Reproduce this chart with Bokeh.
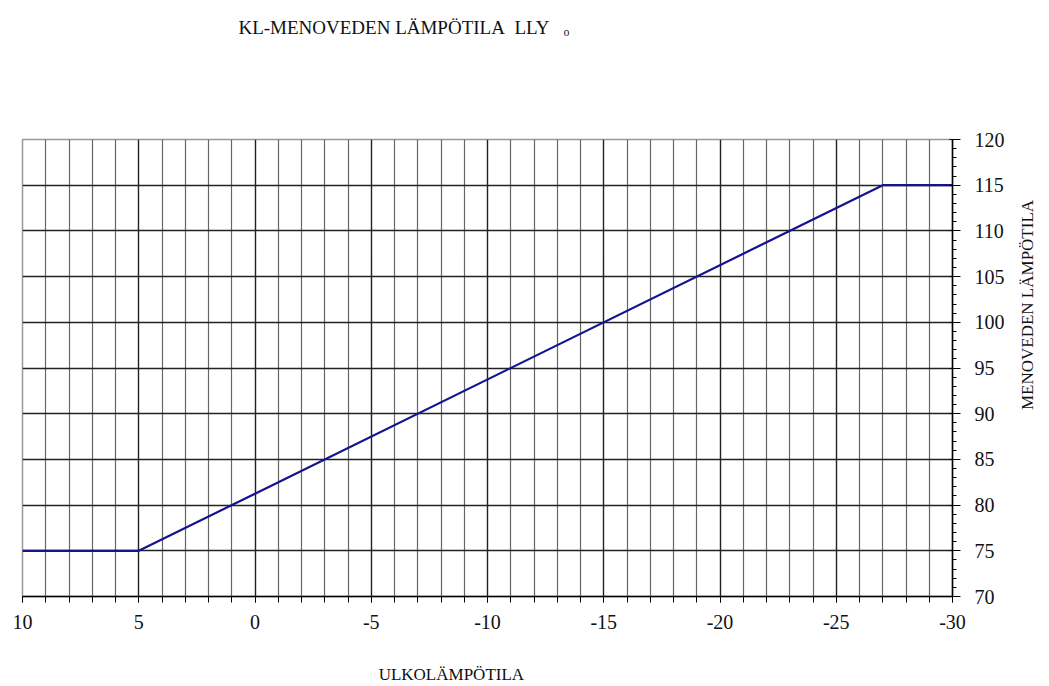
import math
from bokeh.plotting import figure
from bokeh.models import Range1d, LinearAxis, SingleIntervalTicker, FixedTicker
from bokeh.embed import file_html
from bokeh.resources import INLINE

# Data
outdoor_temp = [10, 5, -27, -30]
supply_temp = [75, 75, 115, 115]

x_tick_values = [10, 5, 0, -5, -10, -15, -20, -25, -30]
y_tick_values = [70, 75, 80, 85, 90, 95, 100, 105, 110, 115, 120]

NB = "\u00a0"
title_text = "KL-MENOVEDEN LÄMPÖTILA" + NB + NB + "LLY" + NB * 3 + "ₒ"
x_label = "ULKOLÄMPÖTILA"
y_label = "MENOVEDEN LÄMPÖTILA"

# layout anchors for the title / right-hand label (positions along the axes)
TITLE_AT = -6.4
YLABEL_START_AT = 90.4

FONT = "Liberation Serif"
W, H = 1049, 686

p = figure(width=W, height=H, output_backend="svg", toolbar_location=None,
           x_range=Range1d(10, -30), y_range=Range1d(70, 120),
           min_border_left=22, min_border_top=139, min_border_right=96, min_border_bottom=89,
           x_axis_location=None, y_axis_location=None)
p.outline_line_color = "#999999"
p.outline_line_width = 1.5

xt = SingleIntervalTicker(interval=5, num_minor_ticks=5)
yt = SingleIntervalTicker(interval=5, num_minor_ticks=5)

xaxis = LinearAxis(ticker=xt)
yaxis = LinearAxis(ticker=yt)
xaxis.major_label_overrides = {v: str(v) for v in x_tick_values}
yaxis.major_label_overrides = {v: str(v) for v in y_tick_values}
for ax in (xaxis, yaxis):
    ax.axis_line_color = "black"
    ax.axis_line_width = 1.5
    ax.major_tick_line_color = "black"
    ax.minor_tick_line_color = "black"
    ax.major_tick_in = 0
    ax.minor_tick_in = 0
    ax.major_label_text_font = FONT
    ax.major_label_text_font_size = "20px"
    ax.major_label_text_color = "#111111"
    ax.axis_label_text_font = FONT
    ax.axis_label_text_font_style = "normal"
    ax.axis_label_text_font_size = "17px"
    ax.axis_label_text_color = "#111111"
xaxis.major_tick_out = 6
xaxis.minor_tick_out = 6
xaxis.major_label_standoff = 12
xaxis.axis_label = x_label + NB * 17
xaxis.axis_label_standoff = 33
yaxis.major_tick_out = 8
yaxis.major_tick_in = 3
yaxis.minor_tick_out = 4
yaxis.major_label_standoff = 14
p.add_layout(xaxis, "below")
p.add_layout(yaxis, "right")

# title shown as the label of a bare axis above the frame
title_axis = LinearAxis(ticker=FixedTicker(ticks=[TITLE_AT]))
title_axis.major_label_overrides = {TITLE_AT: title_text}
# vertical name of the y quantity, as the label of a bare axis right of the ticks
ylab_axis = LinearAxis(ticker=FixedTicker(ticks=[YLABEL_START_AT]))
ylab_axis.major_label_overrides = {YLABEL_START_AT: y_label}
ylab_axis.major_label_orientation = math.pi / 2
for ax in (title_axis, ylab_axis):
    ax.axis_line_color = None
    ax.major_tick_line_color = None
    ax.minor_tick_line_color = None
    ax.major_tick_out = 0
    ax.major_tick_in = 0
    ax.major_label_text_font = FONT
    ax.major_label_text_color = "#111111"
title_axis.major_label_text_font_size = "19px"
title_axis.major_label_standoff = 102
ylab_axis.major_label_text_font_size = "17px"
ylab_axis.major_label_standoff = 20
p.add_layout(title_axis, "above")
p.add_layout(ylab_axis, "right")

p.xgrid.ticker = xt
p.ygrid.ticker = yt
p.xgrid.grid_line_color = "#222222"
p.xgrid.grid_line_width = 1.3
p.xgrid.minor_grid_line_color = "#666666"
p.xgrid.minor_grid_line_width = 1.2
p.ygrid.grid_line_color = "#222222"
p.ygrid.grid_line_width = 1.6

p.line(outdoor_temp, supply_temp, line_color="#14148f", line_width=2.2)

open("out.html", "w").write(file_html(p, INLINE))
